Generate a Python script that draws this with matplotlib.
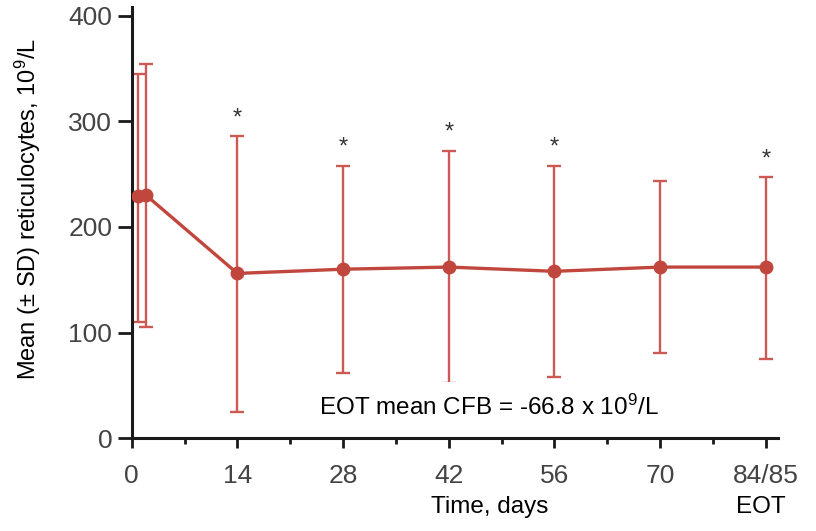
import numpy as np
import matplotlib.pyplot as plt
from matplotlib.ticker import MultipleLocator

# data
days = [0.9, 1.9, 14, 28, 42, 56, 70, 84]
mean_retic = [229, 230, 156, 160, 162, 158, 162, 162]
sd_upper = [345, 354, 286, 258, 272, 258, 243, 247]
sd_lower = [110, 105, 25, 62, 52, 58, 81, 75]
signif = [False, False, True, True, True, True, False, True]

tick_pos = [0, 14, 28, 42, 56, 70, 84]
tick_lab = ["0", "14", "28", "42", "56", "70", "84/85"]

RED = "#c1473e"
RED_BAR = "#cc5a52"

plt.rcParams['font.family'] = ['Liberation Sans', 'DejaVu Sans']
plt.rcParams['mathtext.fontset'] = 'custom'
plt.rcParams['mathtext.rm'] = 'Liberation Sans'
plt.rcParams['mathtext.it'] = 'Liberation Sans'
plt.rcParams['mathtext.default'] = 'rm'

fig = plt.figure(figsize=(8.16, 5.31), dpi=100)
ax = fig.add_axes([0.1614, 0.1746, 0.792, 0.812])

m = np.array(mean_retic)
yerr = [m - np.array(sd_lower), np.array(sd_upper) - m]
ax.errorbar(days, m, yerr=yerr, fmt='none', ecolor=RED_BAR, elinewidth=1.7,
            capsize=5, capthick=1.7, zorder=2)
ax.plot(days, m, color=RED, lw=2.4, marker='o', ms=9, zorder=3)

# significance stars above the SD caps
for d, top, s in zip(days, sd_upper, signif):
    if s:
        ax.annotate("*", (d, top), xytext=(0, 5), textcoords='offset points',
                    ha='center', va='bottom', fontsize=17, color='#333333')

ax.text(0.553, 0.073, "EOT mean CFB = -66.8 x 10$^{9}$/L", transform=ax.transAxes,
        ha='center', va='center', fontsize=17.5, color='black', zorder=5,
        bbox=dict(facecolor='white', edgecolor='none', pad=9))

ax.set_xlim(0, 85.6)
ax.set_ylim(0, 408)
ax.set_xticks(tick_pos)
ax.set_xticklabels(tick_lab)
ax.xaxis.set_minor_locator(MultipleLocator(7))
ax.set_yticks([0, 100, 200, 300, 400])

for side in ['top', 'right']:
    ax.spines[side].set_visible(False)
for side in ['left', 'bottom']:
    ax.spines[side].set_linewidth(2.2)
    ax.spines[side].set_color('#1a1a1a')

ax.tick_params(axis='y', which='major', length=10, width=2, color='#1a1a1a',
               labelsize=19, labelcolor='#444444', pad=4)
ax.tick_params(axis='x', which='major', length=7.5, width=2, color='#1a1a1a',
               labelsize=19, labelcolor='#444444', pad=11)
ax.tick_params(axis='x', which='minor', length=4, width=2, color='#1a1a1a')

fig.text(28 / 816, 1 - 209 / 531, "Mean (± SD) reticulocytes, 10$^{9}$/L",
         rotation=90, ha='center', va='center', fontsize=17)

fig.text(490 / 816, 1 - 507 / 531, "Time, days", ha='center', va='center', fontsize=17.5)
fig.text(761 / 816, 1 - 507 / 531, "EOT", ha='center', va='center', fontsize=17.5)

fig.savefig("out.png", dpi=100)
